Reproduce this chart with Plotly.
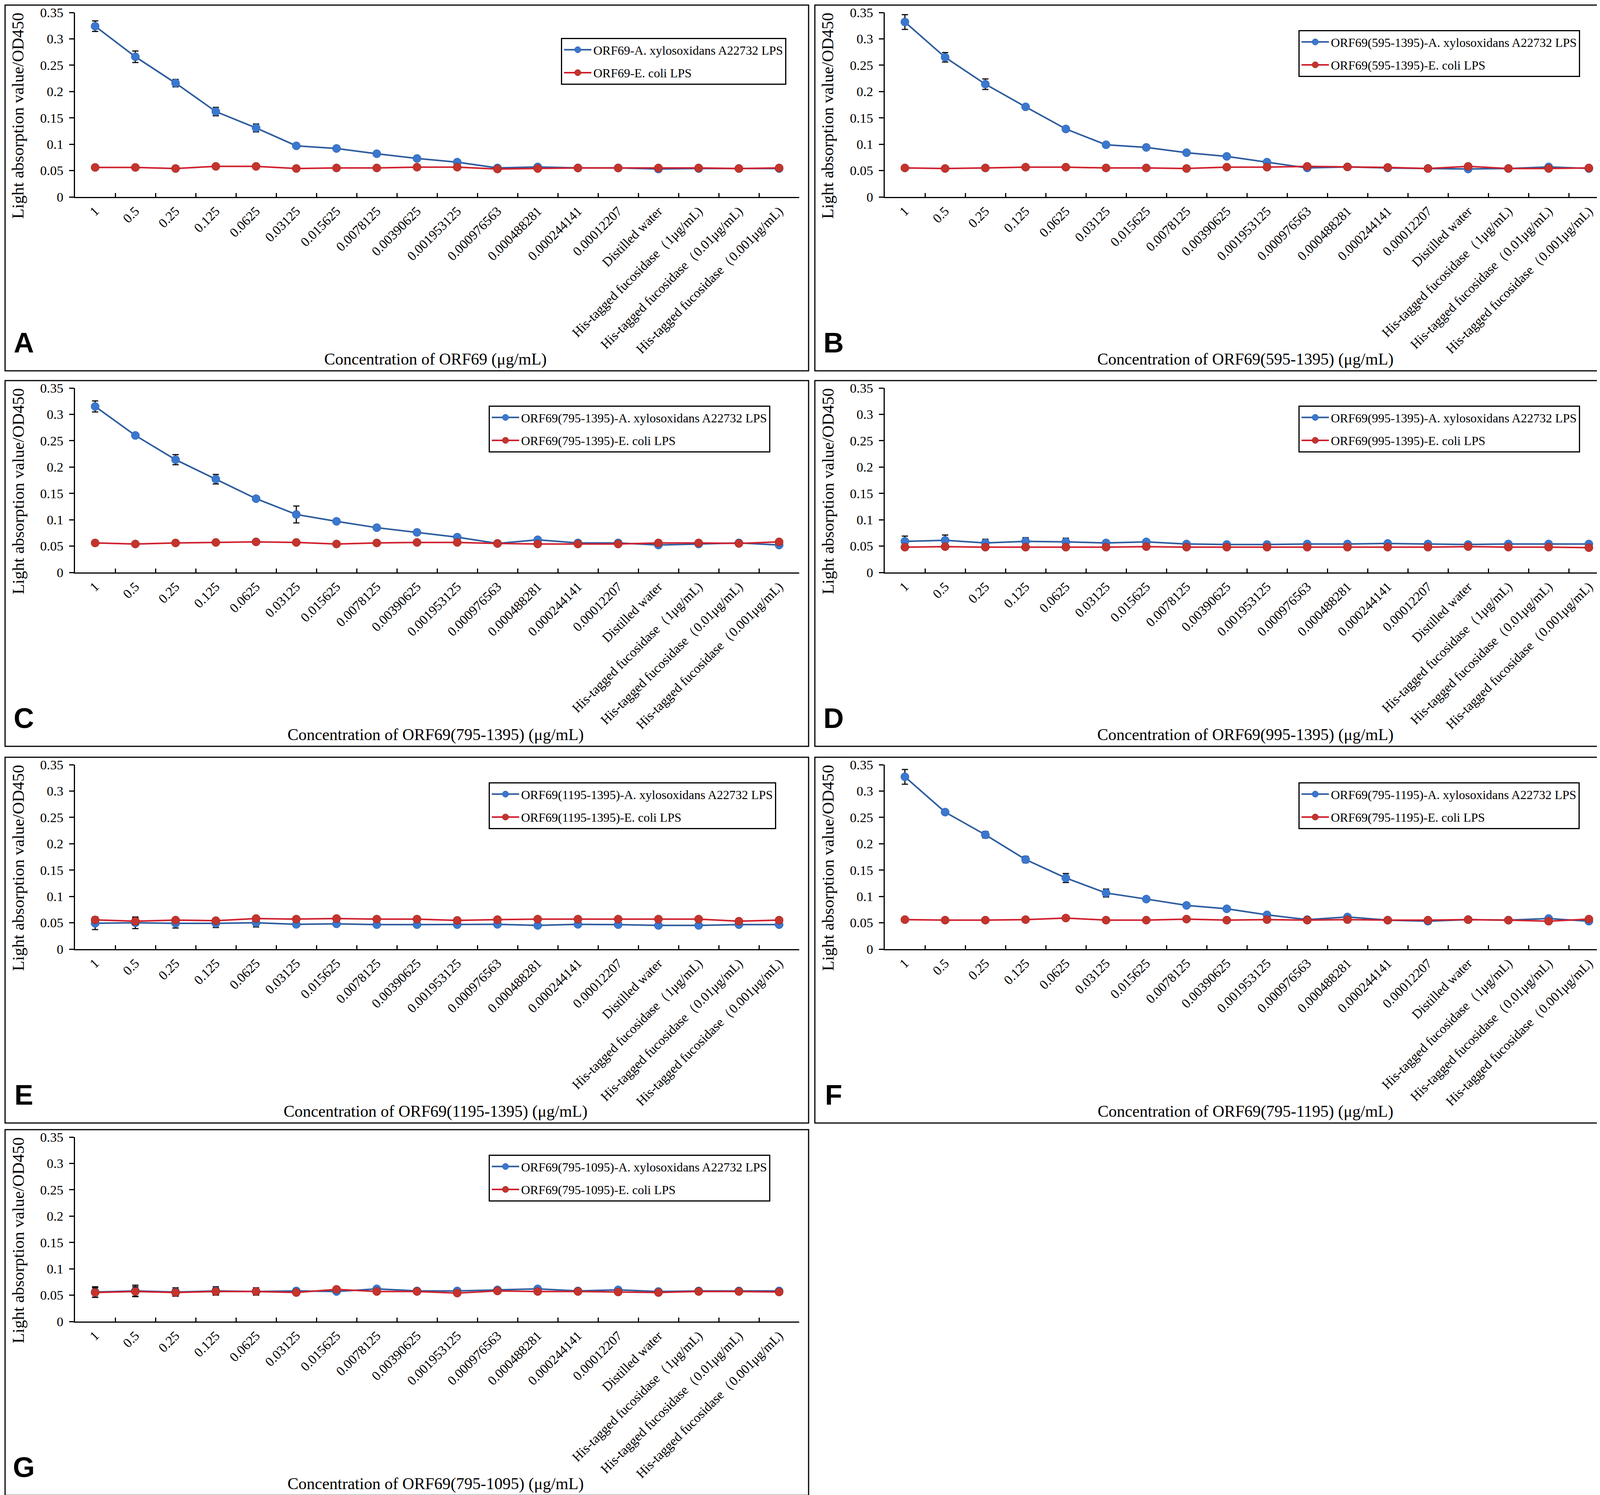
import plotly.graph_objects as go

# x categories (same for every panel)
categories = ["1", "0.5", "0.25", "0.125", "0.0625", "0.03125", "0.015625",
              "0.0078125", "0.00390625", "0.001953125", "0.000976563",
              "0.000488281", "0.000244141", "0.00012207", "Distilled water",
              "His-tagged fucosidase（1μg/mL)", "His-tagged fucosidase（0.01μg/mL)",
              "His-tagged fucosidase（0.001μg/mL)"]

# Panel A - ORF69
a_blue = [0.324, 0.266, 0.216, 0.162, 0.131, 0.097, 0.092, 0.082, 0.073, 0.066,
          0.055, 0.057, 0.055, 0.055, 0.053, 0.054, 0.054, 0.054]
a_blue_err = [0.010, 0.011, 0.007, 0.008, 0.0075, 0.003, 0.003, 0.003, 0.003, 0.003,
              0.002, 0.003, 0.002, 0.002, 0.002, 0.002, 0.002, 0.002]
a_red = [0.056, 0.056, 0.054, 0.058, 0.058, 0.054, 0.055, 0.055, 0.0565, 0.0565,
         0.053, 0.054, 0.055, 0.055, 0.055, 0.055, 0.054, 0.055]
a_red_err = [0.002, 0.002, 0.002, 0.002, 0.002, 0.002, 0.002, 0.002, 0.002, 0.002,
             0.002, 0.002, 0.002, 0.002, 0.002, 0.002, 0.002, 0.002]

# Panel B - ORF69(595-1395)
b_blue = [0.332, 0.265, 0.214, 0.171, 0.129, 0.099, 0.094, 0.084, 0.077, 0.066,
          0.055, 0.057, 0.055, 0.054, 0.053, 0.054, 0.057, 0.054]
b_blue_err = [0.014, 0.009, 0.010, 0.003, 0.003, 0.003, 0.003, 0.003, 0.003, 0.003,
              0.002, 0.003, 0.002, 0.002, 0.002, 0.002, 0.002, 0.002]
b_red = [0.055, 0.054, 0.055, 0.0565, 0.0565, 0.055, 0.055, 0.054, 0.0565, 0.0565,
         0.058, 0.057, 0.056, 0.054, 0.058, 0.054, 0.054, 0.055]
b_red_err = [0.002, 0.002, 0.002, 0.002, 0.002, 0.002, 0.002, 0.002, 0.002, 0.002,
             0.002, 0.002, 0.002, 0.002, 0.002, 0.002, 0.002, 0.002]

# Panel C - ORF69(795-1395)
c_blue = [0.315, 0.260, 0.214, 0.177, 0.140, 0.110, 0.097, 0.085, 0.076, 0.067,
          0.055, 0.062, 0.056, 0.056, 0.052, 0.054, 0.056, 0.052]
c_blue_err = [0.0105, 0.003, 0.0095, 0.009, 0.003, 0.016, 0.003, 0.003, 0.003, 0.003,
              0.002, 0.003, 0.002, 0.002, 0.002, 0.002, 0.002, 0.002]
c_red = [0.056, 0.054, 0.056, 0.057, 0.058, 0.057, 0.054, 0.056, 0.057, 0.057,
         0.055, 0.054, 0.054, 0.054, 0.056, 0.056, 0.055, 0.058]
c_red_err = [0.002, 0.002, 0.002, 0.002, 0.002, 0.002, 0.002, 0.002, 0.002, 0.002,
             0.002, 0.002, 0.002, 0.002, 0.002, 0.002, 0.002, 0.002]

# Panel D - ORF69(995-1395)
d_blue = [0.059, 0.061, 0.056, 0.059, 0.058, 0.056, 0.058, 0.054, 0.053, 0.053,
          0.054, 0.054, 0.055, 0.054, 0.053, 0.054, 0.054, 0.054]
d_blue_err = [0.010, 0.010, 0.007, 0.007, 0.007, 0.002, 0.002, 0.002, 0.002, 0.002,
              0.002, 0.002, 0.002, 0.002, 0.002, 0.002, 0.002, 0.002]
d_red = [0.048, 0.049, 0.048, 0.048, 0.048, 0.048, 0.049, 0.048, 0.048, 0.048,
         0.048, 0.048, 0.048, 0.048, 0.049, 0.048, 0.048, 0.047]
d_red_err = [0.002, 0.002, 0.002, 0.002, 0.002, 0.002, 0.002, 0.002, 0.002, 0.002,
             0.002, 0.002, 0.002, 0.002, 0.002, 0.002, 0.002, 0.002]

# Panel E - ORF69(1195-1395)
e_blue = [0.049, 0.050, 0.049, 0.049, 0.050, 0.047, 0.048, 0.0465, 0.0465, 0.0465,
          0.047, 0.045, 0.047, 0.0465, 0.045, 0.045, 0.0465, 0.0465]
e_blue_err = [0.012, 0.011, 0.009, 0.008, 0.008, 0.002, 0.002, 0.002, 0.002, 0.002,
              0.002, 0.002, 0.002, 0.002, 0.002, 0.002, 0.002, 0.002]
e_red = [0.0555, 0.053, 0.055, 0.054, 0.058, 0.057, 0.058, 0.057, 0.057, 0.0545,
         0.056, 0.057, 0.057, 0.057, 0.057, 0.057, 0.053, 0.055]
e_red_err = [0.002, 0.006, 0.002, 0.002, 0.002, 0.002, 0.002, 0.002, 0.002, 0.002,
             0.002, 0.002, 0.002, 0.002, 0.002, 0.002, 0.002, 0.002]

# Panel F - ORF69(795-1195)
f_blue = [0.327, 0.260, 0.217, 0.170, 0.135, 0.1065, 0.095, 0.083, 0.0765, 0.065,
          0.056, 0.061, 0.055, 0.053, 0.056, 0.055, 0.058, 0.053]
f_blue_err = [0.014, 0.004, 0.006, 0.006, 0.0085, 0.0075, 0.003, 0.003, 0.003, 0.003,
              0.002, 0.003, 0.002, 0.002, 0.002, 0.002, 0.002, 0.002]
f_red = [0.056, 0.055, 0.055, 0.056, 0.059, 0.055, 0.055, 0.057, 0.055, 0.056,
         0.055, 0.056, 0.055, 0.055, 0.056, 0.055, 0.053, 0.057]
f_red_err = [0.002, 0.002, 0.002, 0.002, 0.002, 0.002, 0.002, 0.002, 0.002, 0.002,
             0.002, 0.002, 0.002, 0.002, 0.002, 0.002, 0.002, 0.002]

# Panel G - ORF69(795-1095)
g_blue = [0.056, 0.058, 0.056, 0.058, 0.057, 0.058, 0.057, 0.062, 0.058, 0.058,
          0.060, 0.062, 0.058, 0.060, 0.057, 0.058, 0.058, 0.058]
g_blue_err = [0.010, 0.011, 0.008, 0.008, 0.007, 0.002, 0.002, 0.002, 0.002, 0.002,
              0.002, 0.002, 0.002, 0.002, 0.002, 0.002, 0.002, 0.002]
g_red = [0.055, 0.057, 0.055, 0.057, 0.057, 0.055, 0.061, 0.057, 0.057, 0.054,
         0.058, 0.057, 0.057, 0.056, 0.055, 0.057, 0.057, 0.056]
g_red_err = [0.009, 0.009, 0.006, 0.006, 0.003, 0.002, 0.002, 0.002, 0.002, 0.002,
             0.002, 0.002, 0.002, 0.002, 0.002, 0.002, 0.002, 0.002]

letters = ["A", "B", "C", "D", "E", "F", "G"]
constructs = ["ORF69", "ORF69(595-1395)", "ORF69(795-1395)", "ORF69(995-1395)",
              "ORF69(1195-1395)", "ORF69(795-1195)", "ORF69(795-1095)"]
blue_vals = [a_blue, b_blue, c_blue, d_blue, e_blue, f_blue, g_blue]
blue_errs = [a_blue_err, b_blue_err, c_blue_err, d_blue_err, e_blue_err, f_blue_err, g_blue_err]
red_vals = [a_red, b_red, c_red, d_red, e_red, f_red, g_red]
red_errs = [a_red_err, b_red_err, c_red_err, d_red_err, e_red_err, f_red_err, g_red_err]

# page geometry (pixels)
W, H = 4140, 3826
col_x = [5, 2078]
row_y = [5, 966, 1930, 2883]
box_w = 2057
box_h = 936
grid_pos = [(0, 0), (1, 0), (0, 1), (1, 1), (0, 2), (1, 2), (0, 3)]

SERIF = "Liberation Serif"
BLUE_LINE = "#2E5C9E"
BLUE_MARK = "#3A78CF"
RED_LINE = "#D0202E"
RED_MARK = "#C4342C"


def px(x):
    return x / W


def py(y):
    return 1 - y / H


fig = go.Figure()
shapes = []
annotations = []
layout = {}

for i, letter in enumerate(letters):
    col, row = grid_pos[i]
    bx, by = col_x[col], row_y[row]
    n = "" if i == 0 else str(i + 1)
    leg = "legend" + n
    name = constructs[i]

    fig.add_trace(go.Scatter(
        x=categories, y=blue_vals[i], mode="lines+markers",
        name=name + "-A. xylosoxidans A22732 LPS",
        line=dict(color=BLUE_LINE, width=4),
        marker=dict(color=BLUE_MARK, size=21, line=dict(color="#2A5CA8", width=1)),
        error_y=dict(type="data", array=blue_errs[i], color="#111111", thickness=3, width=8),
        xaxis="x" + n, yaxis="y" + n, legend=leg, legendgroup="b" + letter))
    fig.add_trace(go.Scatter(
        x=categories, y=red_vals[i], mode="lines+markers",
        name=name + "-E. coli LPS",
        line=dict(color=RED_LINE, width=4),
        marker=dict(color=RED_MARK, size=21, line=dict(color="#9A1F1F", width=1)),
        error_y=dict(type="data", array=red_errs[i], color="#111111", thickness=3, width=8),
        xaxis="x" + n, yaxis="y" + n, legend=leg, legendgroup="r" + letter))

    layout["xaxis" + n] = dict(
        domain=[px(bx + 179), px(bx + 2033)], anchor="y" + n,
        type="category", categoryorder="array", categoryarray=categories,
        range=[-0.5, len(categories) - 0.5], tickson="boundaries",
        ticks="inside", ticklen=10, tickwidth=3, tickcolor="black",
        showline=True, linecolor="black", linewidth=3, showgrid=False, zeroline=False,
        tickangle=-45, ticklabelstandoff=0, automargin=False,
        tickfont=dict(family=SERIF, size=34, color="black"))
    layout["yaxis" + n] = dict(
        domain=[py(by + 491), py(by + 19)], anchor="x" + n,
        range=[0, 0.35], dtick=0.05, tick0=0,
        ticks="outside", ticklen=12, tickwidth=3, tickcolor="black",
        showline=True, linecolor="black", linewidth=3, showgrid=False, zeroline=False,
        ticklabelstandoff=8, automargin=False,
        tickfont=dict(family=SERIF, size=34, color="black"))

    leg_left = 1423 if i == 0 else 1238
    leg_top = 84 if i == 0 else 64
    layout[leg] = dict(
        x=px(bx + leg_left), y=py(by + leg_top), xanchor="left", yanchor="top",
        bgcolor="white", bordercolor="black", borderwidth=3,
        font=dict(family=SERIF, size=32, color="black"),
        itemwidth=70, traceorder="grouped", tracegroupgap=14)

    # panel frame
    shapes.append(dict(type="rect", xref="paper", yref="paper",
                       x0=px(bx), x1=px(bx + box_w), y0=py(by + box_h), y1=py(by),
                       line=dict(color="black", width=3)))

    annotations.append(dict(
        text="Light absorption value/OD450", textangle=-90,
        x=px(bx + 33), y=py(by + 283), xref="paper", yref="paper",
        xanchor="center", yanchor="middle", showarrow=False,
        font=dict(family=SERIF, size=43, color="black")))
    annotations.append(dict(
        text="Concentration of " + name + " (μg/mL)",
        x=px(bx + 1102), y=py(by + 906), xref="paper", yref="paper",
        xanchor="center", yanchor="middle", showarrow=False,
        font=dict(family=SERIF, size=42, color="black")))
    annotations.append(dict(
        text="<b>" + letter + "</b>",
        x=px(bx + 48), y=py(by + 864), xref="paper", yref="paper",
        xanchor="center", yanchor="middle", showarrow=False,
        font=dict(family="Liberation Sans", size=72, color="black")))

fig.update_layout(
    template="none",
    width=W, height=H,
    margin=dict(l=0, r=0, t=0, b=0),
    paper_bgcolor="white", plot_bgcolor="white",
    shapes=shapes, annotations=annotations,
    **layout)

fig.write_html("out.html")
